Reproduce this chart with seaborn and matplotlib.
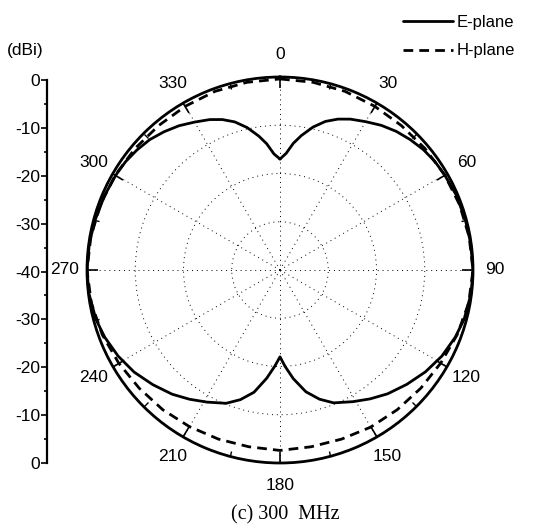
import numpy as np
import matplotlib
matplotlib.use("Agg")
import matplotlib.pyplot as plt
import seaborn as sns

# E-plane pattern (angle in deg, gain in dBi)
e_deg = [0, 3, 6, 9, 13, 17, 21, 25, 30, 35, 40, 45, 50, 55, 60, 67, 75, 82, 90,
         97, 105, 111, 118, 125, 132, 139, 145, 151, 158, 163, 168, 173, 177, 180,
         183, 187, 192, 197, 202, 209, 215, 221, 228, 235, 242, 249, 255, 263, 270,
         278, 285, 293, 300, 305, 310, 315, 320, 325, 330, 335, 339, 343, 347, 351, 354, 357, 360]
e_db = [-17.0, -15.8, -13.6, -11.8, -9.6, -7.8, -6.5, -5.5, -4.5, -3.4, -2.5, -1.8, -1.2,
        -0.8, -0.6, -0.3, -0.2, -0.1, 0.0,
        -0.1, -0.5, -1.1, -2.0, -3.2, -4.6, -6.0, -7.4, -8.8, -10.3, -12.0, -14.2, -17.3,
        -20.0, -22.0,
        -20.1, -17.4, -14.1, -11.9, -10.2, -8.7, -7.3, -5.9, -4.5, -3.1, -2.0, -1.1, -0.5,
        -0.1, 0.0,
        -0.1, -0.3, -0.5, -0.7, -0.9, -1.3, -1.8, -2.6, -3.5, -4.6, -5.6, -6.6, -7.9,
        -9.7, -11.9, -13.7, -15.9, -17.0]

# H-plane pattern
h_deg = [0, 10, 20, 30, 40, 50, 60, 70, 80, 90, 100, 110, 120, 130, 140, 150, 160, 170,
         180, 190, 200, 210, 220, 230, 240, 250, 260, 270, 280, 290, 300, 310, 320, 330,
         340, 350, 360]
h_db = [-0.4, -0.5, -0.6, -0.8, -0.9, -0.8, -0.6, -0.4, -0.2, 0.0, -0.3, -0.9, -1.5,
        -1.9, -2.2, -2.4, -2.7, -2.8, -2.6, -2.8, -2.7, -2.5, -2.2, -1.9, -1.4, -0.8,
        -0.3, 0.0, -0.2, -0.4, -0.6, -0.8, -0.9, -0.8, -0.6, -0.5, -0.4]

theta_ticks = list(range(0, 360, 30))
scale_pos = [0, 10, 20, 30, 40, 50, 60, 70, 80]
scale_labels = ["0", "-10", "-20", "-30", "-40", "-30", "-20", "-10", "0"]

sns.set_theme(style="white")
plt.rcParams["font.family"] = ["Liberation Sans", "DejaVu Sans"]
plt.rcParams["text.color"] = "black"
plt.rcParams["xtick.color"] = "black"
plt.rcParams["ytick.color"] = "black"
plt.rcParams["axes.edgecolor"] = "black"

fig = plt.figure(figsize=(5.36, 5.28), dpi=100)

# polar plot, center (280, 270) px, radius 193 px
ax = fig.add_axes([87 / 536, 1 - 463 / 528, 386 / 536, 386 / 528], projection="polar")
sns.lineplot(x=np.deg2rad(e_deg), y=e_db, ax=ax, color="black", lw=2.0,
             sort=False, label="E-plane")
sns.lineplot(x=np.deg2rad(h_deg), y=h_db, ax=ax, color="black", lw=2.0,
             sort=False, linestyle=(0, (3.5, 2.2)), label="H-plane")
handles, labels = ax.get_legend_handles_labels()
ax.get_legend().remove()

ax.set_theta_zero_location("N")
ax.set_theta_direction(-1)
ax.set_ylim(-40, 0)
ax.set_yticks([-30, -20, -10, 0])
ax.set_yticklabels([])
ax.set_xticks(np.deg2rad(theta_ticks))
ax.set_xticklabels([str(t) for t in theta_ticks], fontsize=12.5)
ax.set_xticks(np.deg2rad(range(15, 360, 30)), minor=True)
ax.tick_params(axis="x", which="major", bottom=False, top=True, direction="in",
               length=8, width=1.2, pad=9, color="black")
ax.tick_params(axis="x", which="minor", bottom=False, top=True, direction="in",
               length=4, width=1.0, color="black")
ax.grid(True, color="black", lw=0.7, linestyle=(0, (1, 4)))
ax.spines["polar"].set_linewidth(2.0)
ax.spines["polar"].set_color("black")
ax.set_xlabel("")
ax.set_ylabel("")

# left dB scale
ax2 = fig.add_axes([47 / 536, 1 - 463 / 528, 0.0001, 383 / 528])
ax2.set_ylim(0, 80)
ax2.set_yticks(scale_pos)
ax2.set_yticklabels(scale_labels, fontsize=12.5)
ax2.set_yticks(range(5, 80, 10), minor=True)
ax2.set_xticks([])
for s in ["top", "right", "bottom"]:
    ax2.spines[s].set_visible(False)
ax2.spines["left"].set_linewidth(1.6)
ax2.spines["left"].set_color("black")
ax2.tick_params(axis="y", which="major", left=True, length=4, width=1.2, pad=1)
ax2.tick_params(axis="y", which="minor", left=True, length=2, width=1.2)
fig.text(25 / 536, 1 - 50 / 528, "(dBi)", ha="center", va="center", fontsize=12.5)

fig.legend(handles, ["E-plane", "H-plane"], loc="upper right",
           bbox_to_anchor=(530 / 536, 1 - 0 / 528), frameon=False, fontsize=12,
           handlelength=3.0, handletextpad=0.2, labelspacing=0.8)

fig.text(285 / 536, 1 - 515 / 528, "(c) 300  MHz", ha="center", va="center",
         fontsize=14.5, family=["Liberation Serif", "DejaVu Serif"])

fig.savefig("out.png", dpi=100)
